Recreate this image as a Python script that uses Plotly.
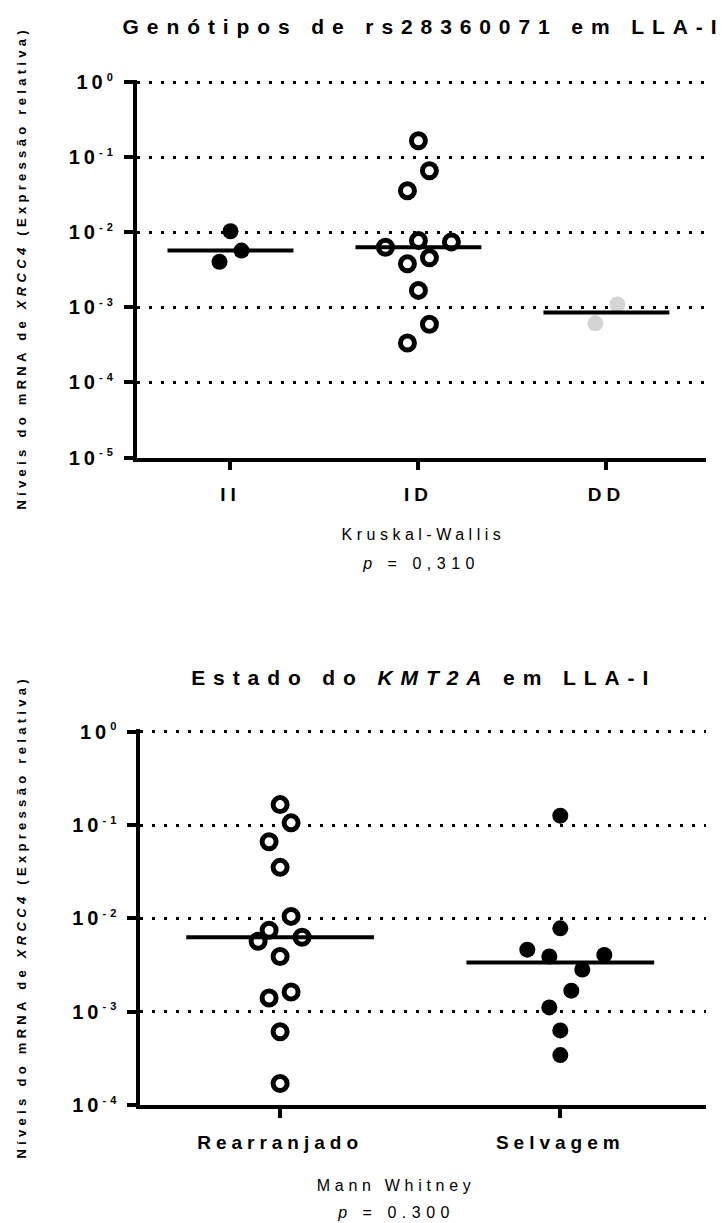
import numpy as np
import plotly.graph_objects as go

# ---------------- data ----------------
geno_categories = ["II", "ID", "DD"]
geno_II = [0.0103, 0.0057, 0.00403]
geno_ID = [0.165, 0.0658, 0.0357, 0.0063, 0.00773, 0.00743, 0.00379, 0.00456,
           0.00168, 0.000593, 0.000335]
geno_DD = [0.00109, 0.000611]

kmt2a_categories = ["Rearranjado", "Selvagem"]
kmt2a_rearranjado = [0.1655, 0.1055, 0.0662, 0.0352, 0.0105, 0.00745, 0.00569,
                     0.00627, 0.0039, 0.001626, 0.0014, 0.00061, 0.00017]
kmt2a_selvagem = [0.126, 0.00782, 0.00462, 0.0039, 0.00406, 0.00283, 0.00168,
                  0.00111, 0.000629, 0.000343]

top_exponents = [0, -1, -2, -3, -4, -5]
bottom_exponents = [0, -1, -2, -3, -4]

# ---------------- layout helpers (beeswarm slots, pixels) ----------------
swarm_II = [0, 1, -1]
swarm_ID = [0, 1, -1, -3, 0, 3, -1, 1, 0, 1, -1]
swarm_DD = [1, -1]
swarm_R = [0, 1, -1, 0, 1, -1, -2, 2, 0, 1, -1, 0, 0]
swarm_S = [0, 0, -3, -1, 4, 2, 1, -1, 0, 0]

W, H = 724, 1223
SWARM_PX = 11.0
HALF_MEDIAN = 0.335
TOP_PAD = 0.025   # decades above 10^0 so its grid line is drawn

top_dom_x = [136.5, 706]
top_dec = [82, 457.5]            # pixel rows of 10^0 and 10^-5
top_xrange = [-0.5, 2.53]
bot_dom_x = [140, 706]
bot_dec = [731.7, 1105]          # pixel rows of 10^0 and 10^-4
bot_xrange = [-0.5, 1.52]


def px_per_unit(dom, rng):
    return (dom[1] - dom[0]) / (rng[1] - rng[0])


step_top = SWARM_PX / px_per_unit(top_dom_x, top_xrange)
step_bot = SWARM_PX / px_per_unit(bot_dom_x, bot_xrange)

fig = go.Figure()


def add_group(values, slots, center, step, style, xa, ya):
    xs = [center + s * step for s in slots]
    if style == "open":
        marker = dict(symbol="circle", size=14, color="white",
                      line=dict(color="black", width=5))
    elif style == "grey":
        marker = dict(symbol="circle", size=16, color="#d4d4d4", line=dict(width=0))
    else:
        marker = dict(symbol="circle", size=16, color="black", line=dict(width=0))
    fig.add_trace(go.Scatter(x=xs, y=values, mode="markers", marker=marker,
                             xaxis=xa, yaxis=ya, showlegend=False, hoverinfo="y"))
    med = float(np.median(values))
    fig.add_trace(go.Scatter(x=[center - HALF_MEDIAN, center + HALF_MEDIAN], y=[med, med],
                             mode="lines", line=dict(color="black", width=4),
                             xaxis=xa, yaxis=ya, showlegend=False, hoverinfo="skip"))


add_group(geno_II, swarm_II, 0, step_top, "filled", "x", "y")
add_group(geno_ID, swarm_ID, 1, step_top, "open", "x", "y")
add_group(geno_DD, swarm_DD, 2, step_top, "grey", "x", "y")
add_group(kmt2a_rearranjado, swarm_R, 0, step_bot, "open", "x2", "y2")
add_group(kmt2a_selvagem, swarm_S, 1, step_bot, "filled", "x2", "y2")

FONT = "Liberation Sans, Arial, sans-serif"
GRID_DASH = "3px,9px"


def xdom(d):
    return [d[0] / W, d[1] / W]


def ydom_log(dec_px, exps):
    ndec = max(exps) - min(exps)
    per = (dec_px[1] - dec_px[0]) / ndec
    top_px = dec_px[0] - TOP_PAD * per
    return [1 - dec_px[1] / H, 1 - top_px / H]


def pow_label(e):
    return "10<sup><span style='font-size:11px'>%d</span></sup>" % e


axis_common = dict(showline=True, linecolor="black", linewidth=3.5,
                   ticks="outside", ticklen=9, tickwidth=3.5, tickcolor="black",
                   zeroline=False, fixedrange=True, automargin=False)

xaxis_common = dict(axis_common, showgrid=False,
                    tickfont=dict(family=FONT, size=19, color="black", weight="bold"),
                    ticklabelstandoff=8)
yaxis_common = dict(axis_common, type="log", showgrid=True, gridcolor="black",
                    gridwidth=3, griddash=GRID_DASH, ticklabelstandoff=3,
                    tickfont=dict(family=FONT, size=20, color="black", weight="bold"))

fig.update_layout(
    width=W, height=H, autosize=False,
    margin=dict(l=0, r=0, t=0, b=0, pad=0, autoexpand=False),
    paper_bgcolor="white", plot_bgcolor="white", showlegend=False,
    xaxis=dict(xaxis_common, domain=xdom(top_dom_x), range=top_xrange,
               tickvals=list(range(len(geno_categories))), ticktext=geno_categories,
               anchor="y"),
    yaxis=dict(yaxis_common, domain=ydom_log(top_dec, top_exponents),
               range=[min(top_exponents), max(top_exponents) + TOP_PAD],
               tickvals=[10.0 ** e for e in top_exponents],
               ticktext=[pow_label(e) for e in top_exponents], anchor="x"),
    xaxis2=dict(xaxis_common, domain=xdom(bot_dom_x), range=bot_xrange,
                tickvals=list(range(len(kmt2a_categories))), ticktext=kmt2a_categories,
                anchor="y2"),
    yaxis2=dict(yaxis_common, domain=ydom_log(bot_dec, bottom_exponents),
                range=[min(bottom_exponents), max(bottom_exponents) + TOP_PAD],
                tickvals=[10.0 ** e for e in bottom_exponents],
                ticktext=[pow_label(e) for e in bottom_exponents], anchor="x2"),
)

ann_specs = [
    # text, x px, y px, size, bold, angle, letter spacing
    ("Genótipos de rs28360071 em LLA-I", 424, 26, 21, True, 0, 7.9),
    ("Estado do <i>KMT2A</i> em LLA-I", 424, 677, 21, True, 0, 7.9),
    ("Níveis do mRNA de <i>XRCC4</i> (Expressão relativa)", 21, 268, 13, True, -90, 4.3),
    ("Níveis do mRNA de <i>XRCC4</i> (Expressão relativa)", 21, 917, 13, True, -90, 4.3),
    ("Kruskal-Wallis", 424, 534, 16, False, 0, 4.5),
    ("<i>p</i> = 0,310", 421, 563, 16, False, 0, 5.5),
    ("Mann Whitney", 396, 1185, 16, False, 0, 4.7),
    ("<i>p</i> = 0.300", 396, 1212, 16, False, 0, 5.5),
]
css_rules = ["html,body{margin:0!important;padding:0!important;overflow:hidden;}"]
for i, (txt, xp, yp, sz, bold, ang, ls) in enumerate(ann_specs):
    fig.add_annotation(text=txt, x=xp / W, y=1 - yp / H, xref="paper", yref="paper",
                       xanchor="center", yanchor="middle", showarrow=False,
                       textangle=ang,
                       font=dict(family=FONT, size=sz, color="black",
                                 weight="bold" if bold else "normal"))
    css_rules.append('g.annotation[data-index="%d"] text{letter-spacing:%.1fpx;}' % (i, ls))

css_rules.append("g.xtick text, g.x2tick text{letter-spacing:5px;}")
css_rules.append("g.ytick text, g.y2tick text{letter-spacing:4px;}")
css = "".join(css_rules)
post = ("var st=document.createElement('style');st.textContent=%r;"
        "document.head.appendChild(st);window.scrollTo(0,0);" % css)

fig.write_html("out.html", post_script=post, config={"responsive": False,
                                                      "displayModeBar": False})
